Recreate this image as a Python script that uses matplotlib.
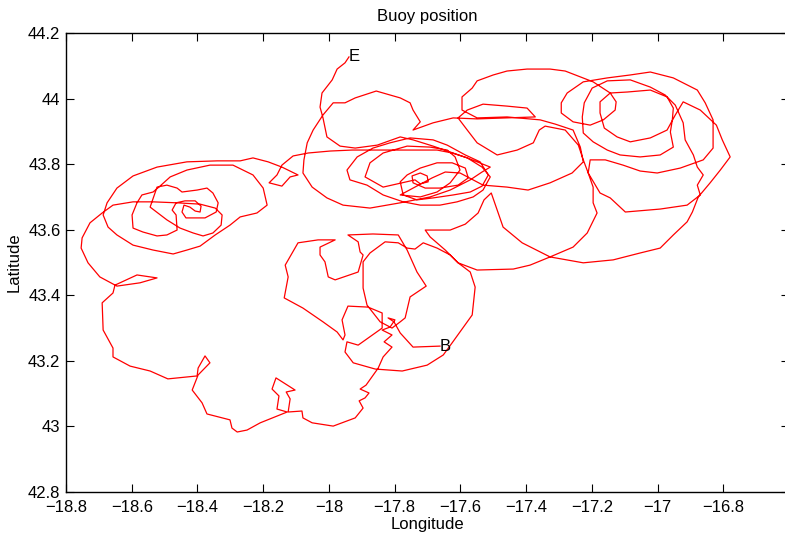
"""Drifting buoy track: longitude / latitude trace from start (B) to end (E)."""

import matplotlib

matplotlib.use("Agg")
import matplotlib.pyplot as plt
import matplotlib.ticker as mticker
import numpy as np

# Track legs (degrees). Joined in order into one line.
# leg 1: start B, drifting south-west
sw_lon = [-17.662, -17.744, -17.783, -17.802, -17.820, -17.799, -17.814, -17.838, -17.808, -17.832,
          -17.808, -17.835, -17.850, -17.869, -17.887, -17.905, -17.878, -17.890, -17.908, -17.896,
          -17.920, -17.987, -18.051, -18.079, -18.082, -18.124, -18.118, -18.130, -18.103, -18.161,
          -18.173, -18.152, -18.158, -18.127, -18.209, -18.249, -18.279, -18.295, -18.301, -18.371,
          -18.386, -18.416, -18.398, -18.362, -18.377, -18.398, -18.401, -18.490, -18.544, -18.605,
          -18.657, -18.657, -18.687, -18.690, -18.657, -18.651, -18.584, -18.523, -18.575, -18.645,
          -18.697, -18.733, -18.754, -18.751, -18.727, -18.690]
sw_lat = [43.245, 43.242, 43.285, 43.319, 43.331, 43.325, 43.303, 43.294, 43.279, 43.258,
          43.242, 43.212, 43.178, 43.151, 43.126, 43.114, 43.102, 43.087, 43.078, 43.056,
          43.026, 43.001, 43.011, 43.026, 43.047, 43.044, 43.084, 43.105, 43.111, 43.148,
          43.114, 43.093, 43.053, 43.044, 43.011, 42.989, 42.983, 42.995, 43.020, 43.038,
          43.072, 43.111, 43.157, 43.194, 43.215, 43.178, 43.154, 43.145, 43.169, 43.184,
          43.212, 43.239, 43.294, 43.377, 43.407, 43.431, 43.462, 43.453, 43.438, 43.428,
          43.456, 43.499, 43.544, 43.575, 43.621, 43.651]

# leg 2: eddy loops in the west, then east along 43.84N
west_lon = [-18.657, -18.596, -18.535, -18.462, -18.392, -18.346, -18.325, -18.328, -18.353, -18.383,
            -18.413, -18.453, -18.493, -18.544, -18.523, -18.493, -18.462, -18.447, -18.401, -18.371,
            -18.353, -18.337, -18.343, -18.377, -18.435, -18.447, -18.441, -18.423, -18.407, -18.392,
            -18.389, -18.407, -18.438, -18.465, -18.477, -18.465, -18.462, -18.493, -18.523, -18.566,
            -18.596, -18.599, -18.584, -18.569, -18.535, -18.514, -18.483, -18.432, -18.362, -18.292,
            -18.231, -18.200, -18.188, -18.219, -18.270, -18.301, -18.346, -18.392, -18.432, -18.474,
            -18.535, -18.596, -18.645, -18.672, -18.687, -18.675, -18.645, -18.596, -18.523, -18.432,
            -18.340, -18.270, -18.231, -18.185, -18.143, -18.094, -18.118, -18.143, -18.182, -18.158,
            -18.143, -18.109, -18.063, -17.996, -17.929, -17.859, -17.799]
west_lat = [43.675, 43.685, 43.685, 43.682, 43.678, 43.666, 43.645, 43.614, 43.590, 43.581,
            43.590, 43.605, 43.630, 43.669, 43.730, 43.736, 43.727, 43.715, 43.721, 43.727,
            43.712, 43.682, 43.654, 43.636, 43.636, 43.654, 43.675, 43.669, 43.657, 43.654,
            43.672, 43.688, 43.688, 43.682, 43.660, 43.645, 43.599, 43.584, 43.581, 43.593,
            43.605, 43.645, 43.682, 43.706, 43.715, 43.733, 43.761, 43.782, 43.797, 43.797,
            43.767, 43.727, 43.675, 43.651, 43.639, 43.614, 43.584, 43.550, 43.538, 43.526,
            43.538, 43.553, 43.584, 43.608, 43.645, 43.682, 43.727, 43.764, 43.791, 43.807,
            43.810, 43.810, 43.819, 43.807, 43.791, 43.767, 43.761, 43.733, 43.743, 43.767,
            43.797, 43.825, 43.834, 43.840, 43.843, 43.843, 43.843]

# leg 3: central eddy, then out to the east
center_lon = [-17.738, -17.671, -17.625, -17.579, -17.534, -17.509, -17.531, -17.561, -17.610, -17.662,
              -17.722, -17.774, -17.835, -17.884, -17.936, -17.945, -17.914, -17.866, -17.814, -17.753,
              -17.683, -17.640, -17.585, -17.540, -17.515, -17.534, -17.570, -17.622, -17.683, -17.732,
              -17.774, -17.783, -17.762, -17.722, -17.671, -17.625, -17.585, -17.576, -17.607, -17.662,
              -17.707, -17.744, -17.747, -17.722, -17.701, -17.698, -17.722, -17.738,
              -17.835, -17.890, -17.875, -17.835, -17.762, -17.692, -17.640, -17.616, -17.601, -17.631,
              -17.671, -17.722, -17.783,
              -17.686, -17.646, -17.601, -17.531, -17.458, -17.394, -17.327, -17.260, -17.226, -17.235,
              -17.257, -17.311, -17.357, -17.458, -17.549, -17.595]
center_lat = [43.843, 43.843, 43.834, 43.819, 43.791, 43.761, 43.721, 43.700, 43.685, 43.675,
              43.675, 43.685, 43.706, 43.736, 43.752, 43.782, 43.822, 43.849, 43.865, 43.880,
              43.874, 43.858, 43.828, 43.807, 43.767, 43.733, 43.715, 43.706, 43.697, 43.691,
              43.706, 43.746, 43.767, 43.788, 43.804, 43.804, 43.788, 43.758, 43.736, 43.727,
              43.727, 43.743, 43.764, 43.773, 43.764, 43.746, 43.740, 43.752,
              43.730, 43.761, 43.804, 43.834, 43.855, 43.852, 43.843, 43.822, 43.782, 43.743,
              43.715, 43.700, 43.706,
              43.758, 43.776, 43.773, 43.736, 43.730, 43.721, 43.743, 43.773, 43.807, 43.852,
              43.904, 43.922, 43.935, 43.944, 43.941, 43.965]

# leg 4: north-eastern loops, back west along 43.5N
east_lon = [-17.595, -17.564, -17.549, -17.500, -17.458, -17.397, -17.327, -17.281, -17.235, -17.196,
            -17.144, -17.126, -17.129, -17.165, -17.205, -17.257, -17.293, -17.293, -17.275, -17.226,
            -17.153, -17.083, -17.022, -16.952, -16.879, -16.855, -16.831, -16.831, -16.861, -16.931,
            -17.001, -17.053, -17.105, -17.159, -17.205, -17.211, -17.175, -17.144, -17.098, -16.992,
            -16.910, -16.870, -16.879, -16.861, -16.879, -16.891, -16.916, -16.922, -16.946, -16.977,
            -17.022, -17.083, -17.153, -17.199, -17.223, -17.229, -17.226, -17.196, -17.153, -17.114,
            -17.053, -16.992, -16.952, -16.961, -16.955, -16.952, -16.971, -17.022, -17.092, -17.144,
            -17.175, -17.175, -17.162, -17.123, -17.083, -17.022, -16.971, -16.946, -16.922, -16.870,
            -16.821, -16.803, -16.779, -16.809, -16.840, -16.876, -16.894, -16.910, -16.952, -16.992,
            -17.053, -17.135, -17.226, -17.327, -17.388, -17.439, -17.549, -17.607]
east_lat = [44.005, 44.032, 44.054, 44.072, 44.084, 44.090, 44.090, 44.084, 44.066, 44.051,
            44.017, 43.990, 43.965, 43.935, 43.919, 43.929, 43.956, 43.987, 44.017, 44.051,
            44.063, 44.072, 44.081, 44.063, 44.026, 43.987, 43.935, 43.849, 43.813, 43.788,
            43.773, 43.779, 43.797, 43.813, 43.813, 43.773, 43.712, 43.697, 43.654, 43.663,
            43.675, 43.706, 43.736, 43.767, 43.791, 43.828, 43.874, 43.926, 43.980, 44.011,
            44.035, 44.057, 44.054, 44.032, 43.987, 43.944, 43.895, 43.868, 43.843, 43.828,
            43.822, 43.828, 43.852, 43.898, 43.935, 43.971, 44.005, 44.026, 44.020, 44.017,
            43.990, 43.956, 43.910, 43.883, 43.868, 43.880, 43.904, 43.950, 43.990, 43.965,
            43.919, 43.874, 43.822, 43.782, 43.743, 43.700, 43.654, 43.624, 43.584, 43.544,
            43.529, 43.508, 43.499, 43.517, 43.492, 43.480, 43.477, 43.499]

# leg 5: southern loops
south_lon = [-17.631, -17.671, -17.713, -17.738, -17.762, -17.789, -17.829, -17.875, -17.896, -17.896,
             -17.884, -17.844, -17.808, -17.783, -17.768, -17.759, -17.753, -17.704, -17.732, -17.762,
             -17.789, -17.866, -17.942, -17.911, -17.905, -17.896, -17.911, -17.981, -18.002, -18.012,
             -18.027, -18.027, -17.981, -18.033, -18.094, -18.133, -18.124, -18.136, -18.079, -18.018,
             -17.975, -17.957, -17.951, -17.960, -17.942, -17.881, -17.838, -17.838, -17.911, -17.945,
             -17.951, -17.926, -17.859, -17.777, -17.701, -17.652, -17.625, -17.564, -17.555, -17.570,
             -17.607, -17.646, -17.692, -17.707, -17.631, -17.585, -17.546, -17.528, -17.506]
south_lat = [43.523, 43.544, 43.560, 43.541, 43.544, 43.560, 43.563, 43.529, 43.502, 43.422,
             43.370, 43.319, 43.300, 43.319, 43.331, 43.370, 43.395, 43.428, 43.471, 43.538,
             43.584, 43.587, 43.584, 43.563, 43.532, 43.523, 43.471, 43.447, 43.456, 43.502,
             43.523, 43.547, 43.569, 43.569, 43.560, 43.492, 43.456, 43.392, 43.361, 43.319,
             43.288, 43.264, 43.279, 43.325, 43.367, 43.364, 43.346, 43.300, 43.248, 43.258,
             43.227, 43.194, 43.175, 43.169, 43.187, 43.218, 43.255, 43.340, 43.425, 43.471,
             43.499, 43.538, 43.578, 43.599, 43.599, 43.617, 43.651, 43.691, 43.712]

# leg 6: back north, last loop and end E
north_lon = [-17.488, -17.470, -17.412, -17.327, -17.257, -17.214, -17.184, -17.196, -17.196, -17.211,
             -17.226, -17.241, -17.281, -17.342, -17.360, -17.378, -17.427, -17.488, -17.549, -17.579,
             -17.607, -17.579, -17.531, -17.458, -17.397, -17.372, -17.458, -17.549, -17.622, -17.683,
             -17.744, -17.722, -17.744, -17.753, -17.783, -17.856, -17.920, -17.951, -17.987, -18.018,
             -18.048, -18.066, -18.076, -18.079, -18.051, -18.006, -17.957, -17.875, -17.783, -17.692,
             -17.631, -17.570, -17.534, -17.509, -17.579, -17.631, -17.683, -17.744, -17.783, -17.853,
             -17.920, -17.966, -18.006, -18.018, -18.027, -18.021, -17.990, -17.975, -17.951, -17.939]
north_lat = [43.660, 43.608, 43.560, 43.517, 43.547, 43.590, 43.651, 43.682, 43.730, 43.773,
             43.813, 43.858, 43.904, 43.916, 43.904, 43.865, 43.843, 43.828, 43.865, 43.904,
             43.941, 43.965, 43.983, 43.977, 43.971, 43.944, 43.941, 43.938, 43.941, 43.926,
             43.904, 43.929, 43.965, 43.987, 44.002, 44.023, 44.002, 43.987, 43.987, 43.950,
             43.904, 43.865, 43.813, 43.773, 43.730, 43.697, 43.675, 43.666, 43.682, 43.700,
             43.721, 43.752, 43.776, 43.791, 43.819, 43.837, 43.855, 43.874, 43.883, 43.858,
             43.849, 43.855, 43.883, 43.941, 43.974, 44.017, 44.057, 44.090, 44.109, 44.127]

x_ticks = [-18.8, -18.6, -18.4, -18.2, -18.0, -17.8, -17.6, -17.4, -17.2, -17.0, -16.8]
y_ticks = [42.8, 43.0, 43.2, 43.4, 43.6, 43.8, 44.0, 44.2]


def main() -> None:
    """Draw the buoy track and save it to out.png."""
    plt.rcParams["font.family"] = ["Liberation Sans", "DejaVu Sans"]

    lon = np.concatenate([sw_lon, west_lon, center_lon, east_lon, south_lon, north_lon])
    lat = np.concatenate([sw_lat, west_lat, center_lat, east_lat, south_lat, north_lat])

    fig = plt.figure(figsize=(7.85, 5.38), dpi=100)
    # axes run a little past the right edge of the picture, as in the original
    ax = fig.add_axes([66 / 785, 46 / 538, 723 / 785, 459 / 538])

    ax.plot(lon, lat, color="red", linewidth=0.9)

    # start and end markers
    ax.text(lon[0], lat[0], "B", fontsize=12, ha="left", va="center")
    ax.text(lon[-1], lat[-1], "E", fontsize=12, ha="left", va="center")

    ax.set_xlim(-18.8, -16.6)
    ax.set_ylim(42.8, 44.2)
    ax.set_xticks(x_ticks)
    ax.set_yticks(y_ticks)
    fmt = mticker.FuncFormatter(lambda v, _: f"{v:g}".replace("-", "\u2212"))
    ax.xaxis.set_major_formatter(fmt)
    ax.yaxis.set_major_formatter(fmt)
    ax.tick_params(direction="in", length=5.5, width=0.8, top=True, right=True,
                   labelsize=12)
    ax.tick_params(axis="x", pad=5.5)
    ax.tick_params(axis="y", pad=4)
    for spine in ax.spines.values():
        spine.set_linewidth(1.0)

    ax.set_title("Buoy position", fontsize=12, pad=9)
    ax.set_xlabel("Longitude", fontsize=12, labelpad=2)
    ax.set_ylabel("Latitude", fontsize=12, labelpad=5)

    fig.savefig("out.png", dpi=100)


if __name__ == "__main__":
    main()
